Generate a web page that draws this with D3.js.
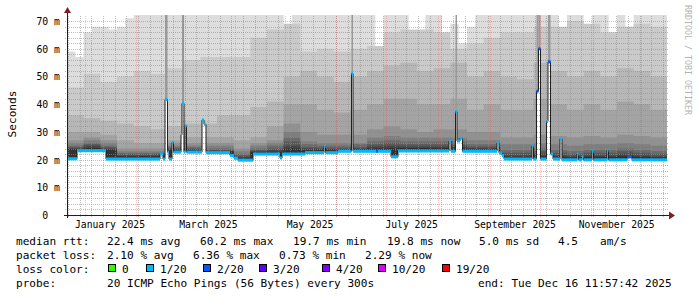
<!DOCTYPE html>
<html>
<head>
<meta charset="utf-8">
<script src="https://cdn.jsdelivr.net/npm/d3@7"></script>
<style>
    body { margin: 0; background: #fff; }
    svg { display: block; font-family: "DejaVu Sans Mono", monospace; }
    text { white-space: pre; }
</style>
</head>
<body>
<svg id="chart" width="697" height="297"></svg>
<script>
// graph covers the last 360 days up to the probe time
const startTime = new Date(Date.UTC(2024, 11, 21, 11, 57, 42));
const endTime = new Date(Date.UTC(2025, 11, 16, 11, 57, 42));

const yTicks = [0, 10, 20, 30, 40, 50, 60, 70];
const monthLabels = ["2025-01", "2025-03", "2025-05", "2025-07", "2025-09", "2025-11"];

// median rtt in ms, as steps: day offset from start, value, lost pings (of 20)
const medianDays = [0, 6, 23.4, 55.8, 57.6, 58.8, 60.3, 61.2, 63, 63.9, 68.4, 69, 70.2, 70.8, 71.7,
    81, 82.2, 83.4, 97.8, 100.2, 102.6, 111.6, 127.8, 129, 142.8, 154.2, 155.1, 162.6, 170.7, 171.6,
    185.4, 186.6, 194.4, 198.6, 229.2, 230.4, 233.1, 234, 235.8, 237.3, 258, 259.2, 261, 262.2,
    279, 279.9, 281.7, 282.9, 284.1, 287.7, 288.6, 290.1, 291.6, 295.8, 297, 306, 306.9, 309, 309.9,
    315, 315.9, 324, 324.9, 336, 339];
const medianValues = [20.3, 23.2, 20.2, 22.0, 20.2, 41.7, 22.7, 20.2, 26.2, 22.7, 29.0, 40.3, 22.7, 32.2, 22.7,
    34.3, 32.7, 22.5, 21.5, 20.5, 19.8, 22.0, 20.6, 22.0, 22.5, 24.7, 22.5, 23.0, 51.1, 23.0,
    23.0, 23.0, 21.0, 23.1, 26.7, 23.0, 37.3, 26.7, 27.7, 23.0, 26.0, 22.4, 21.5, 20.2,
    24.9, 20.2, 44.7, 60.0, 20.2, 33.8, 55.3, 22.0, 20.2, 27.5, 19.9, 22.0, 19.9, 21.0, 19.9,
    23.0, 19.9, 23.4, 19.9, 21.0, 19.9];
const medianLoss = [1, 1, 1, 1, 1, 1, 1, 1, 1, 1, 1, 1, 1, 1, 1,
    1, 1, 1, 1, 1, 1, 1, 1, 1, 1, 1, 1, 1, 1, 1,
    2, 1, 1, 1, 1, 1, 1, 1, 1, 1, 1, 1, 1, 1,
    1, 1, 2, 2, 1, 1, 2, 1, 1, 1, 1, 1, 1, 1, 1,
    1, 1, 1, 1, 2, 1];

// smoke: upper edge of each ping band (ms), outermost band first
// band 1 every 5 days, the others every 10 days
const smokeTop1 = [59, 57, 66, 68, 68, 67, 68, 71, 73, 73, 73, 73, 73, 73, 73, 73, 73, 73,
    73, 73, 73, 73, 73, 73, 73, 73, 64, 73, 73, 73, 73, 73, 73, 73, 73, 73, 73, 56,
    73, 73, 73, 59, 62, 73, 73, 64, 69, 62, 68, 73, 73, 73, 73, 73, 73, 73, 73, 73, 73,
    65, 73, 73, 63, 73, 73, 62, 73, 68, 73, 73, 73, 73];
const smokeTop2 = [46, 51, 48, 50, 52, 51, 53, 56, 57, 57, 57, 64, 67, 69, 59, 60, 59, 60,
    61, 66, 67, 67, 66, 60, 62, 64, 66, 66, 68, 68, 70, 69, 66, 68, 69, 68];
const smokeTop3 = [36, 35, 34, 33, 32, 31, 32, 33, 33, 36, 36, 39, 41, 50, 52, 50, 48, 50,
    52, 54, 55, 52, 53, 55, 50, 52, 50, 49, 55, 52, 50, 52, 50, 53, 52, 50];
const smokeTop4 = [30, 30, 29, 27, 26, 26, 27, 28, 28, 28, 27, 28, 32, 40, 40, 38, 37, 38,
    40, 42, 42, 40, 40, 42, 38, 40, 38, 38, 42, 40, 38, 40, 38, 41, 40, 38];
const smokeTop5 = [27, 28, 27, 24, 24, 24, 26, 26, 26, 26, 24, 26, 27, 33, 30, 29, 29, 29,
    31, 32, 31, 30, 31, 31, 30, 30, 28, 28, 29, 28.5, 28, 28.5, 28, 29, 28.5, 28];
const smokeTop6 = [26, 27, 26, 23, 23, 23, 25, 25, 25, 25, 23, 25, 26, 30, 26.5, 26, 26, 26,
    28, 28.5, 28, 28, 28, 28, 27, 27, 25.5, 25.5, 26, 25.5, 25, 25.5, 25.5, 26, 25.5, 25];
const smokeTop7 = [25, 26, 25, 22.5, 22.5, 22.5, 24.5, 24.5, 24, 24, 22, 24, 25, 28, 25.5, 25, 25, 25.5,
    26.5, 27, 26.5, 26.5, 26.5, 26.5, 25.5, 25.5, 23.5, 23.5, 24, 23.5, 23, 23.5, 23.5, 24, 23.5, 23];
const smokeTop8 = [24.5, 25.5, 24.5, 22, 22, 22, 24, 24, 23.5, 23.5, 21.5, 23.5, 24, 26.5, 24.5, 24.3, 24.3, 24.5,
    25.5, 26, 25.5, 25.5, 25.5, 25.5, 24.7, 24.7, 22.5, 22.5, 23, 22.5, 22, 22.5, 22.5, 23, 22.5, 22];
const smokeTop9 = [24, 25, 24, 21.5, 21.5, 21.5, 23.7, 23.7, 23.3, 23.2, 21, 23, 23.5, 25, 24, 23.8, 23.8, 24,
    24.7, 25, 24.7, 24.7, 24.7, 24.7, 24.2, 24.2, 21.5, 21.5, 22, 21.5, 21.2, 21.5, 21.5, 22, 21.5, 21.2];
const smokeTop10 = [23.8, 24.2, 23.6, 21.2, 21.2, 21.2, 23.4, 23.4, 23, 22.9, 20.6, 22.7, 22.8, 24, 23.4, 23.4, 23.6, 23.8,
    24, 24.2, 24.2, 24.2, 24.2, 24.1, 23.8, 23.6, 21, 21, 21.3, 21, 20.8, 21, 21, 21.3, 21, 20.8];

// legend texts
const rttStats = ["22.4 ms avg", "60.2 ms max", "19.7 ms min", "19.8 ms now", "5.0 ms sd", "4.5", "am/s"];
const lossStats = ["2.10 % avg", "6.36 % max", "0.73 % min", "2.29 % now"];
const lossLabels = ["0", "1/20", "2/20", "3/20", "4/20", "10/20", "19/20"];
const lossLevels = [0, 1, 2, 3, 4, 10, 19];
const lossColors = ["#26ff00", "#00b8ff", "#0059ff", "#5e00ff", "#7e00ff", "#dd00ff", "#ff0000"];
const probeText = "20 ICMP Echo Pings (56 Bytes) every 300s";
const endText = "end: Tue Dec 16 11:57:42 2025";

const svg = d3.select('#chart');

// plot area
const plotLeft = 67, plotRight = 667, plotTop = 15, plotBottom = 215;

const x = d3.scaleUtc()
    .domain([startTime, endTime])
    .range([plotLeft, plotRight]);

const y = d3.scaleLinear()
    .domain([0, 72.2])
    .range([plotBottom, plotTop]);

const dayDate = d => new Date(startTime.getTime() + d * 864e5);
const totalDays = (endTime - startTime) / 864e5;

svg.append('clipPath').attr('id', 'plot-clip')
    .append('rect')
    .attr('x', plotLeft).attr('y', plotTop)
    .attr('width', plotRight - plotLeft).attr('height', plotBottom - plotTop);

const plot = svg.append('g').attr('clip-path', 'url(#plot-clip)');

// smoke bands, lightest outside, darker towards the median
const smokeTops = [smokeTop1, smokeTop2, smokeTop3, smokeTop4, smokeTop5,
    smokeTop6, smokeTop7, smokeTop8, smokeTop9, smokeTop10];

smokeTops.forEach((tops, i) => {
    const step = totalDays / tops.length;
    const pts = tops.map((v, k) => ({ d: k * step, v }));
    pts.push({ d: totalDays, v: tops[tops.length - 1] });
    const shade = Math.floor(190 / 10 * (10 - (i + 1))) + 50;
    plot.append('path')
        .datum(pts)
        .attr('fill', d3.rgb(shade, shade, shade))
        .attr('d', d3.area()
            .curve(d3.curveStepAfter)
            .x(p => x(dayDate(p.d)))
            .y0(y(0))
            .y1(p => y(p.v)));
});

// median steps
const median = medianDays.map((d, i) => ({
    d,
    end: i < medianDays.length - 1 ? medianDays[i + 1] : totalDays,
    v: medianValues[i],
    loss: medianLoss[i]
}));
const medianPts = median.concat([{ d: totalDays, v: medianValues[medianValues.length - 1] }]);

// nothing is drawn below the fastest ping
plot.append('path')
    .datum(medianPts)
    .attr('fill', '#fff')
    .attr('d', d3.area()
        .curve(d3.curveStepAfter)
        .x(p => x(dayDate(p.d)))
        .y0(y(0))
        .y1(p => y(p.v)));

// big spikes carry all pings up with them
plot.selectAll('rect.spike')
    .data(median.filter(m => m.v >= 35))
    .enter()
    .append('rect')
    .attr('class', 'spike')
    .attr('x', m => x(dayDate(m.d)))
    .attr('width', m => x(dayDate(m.end)) - x(dayDate(m.d)))
    .attr('y', plotTop)
    .attr('height', m => y(m.v) - plotTop)
    .attr('fill', '#9a9a9a');

// grid
const grid = svg.append('g');
const minorColor = 'rgba(143,143,143,0.6)';
const majorColor = 'rgba(222,79,79,0.45)';
const majorColorV = 'rgba(222,79,79,0.32)';

const minorY = d3.range(2, 72, 2).filter(v => v % 10 !== 0);
grid.selectAll('line.hminor')
    .data(minorY)
    .enter().append('line')
    .attr('x1', plotLeft - 2).attr('x2', plotRight + 2)
    .attr('y1', d => Math.round(y(d)) + 0.5).attr('y2', d => Math.round(y(d)) + 0.5)
    .attr('stroke', minorColor)
    .attr('stroke-dasharray', '1,1');

const weeks = d3.utcSunday.range(startTime, endTime);
grid.selectAll('line.vminor')
    .data(weeks)
    .enter().append('line')
    .attr('x1', d => Math.round(x(d)) + 0.5).attr('x2', d => Math.round(x(d)) + 0.5)
    .attr('y1', plotBottom + 2).attr('y2', plotTop)
    .attr('stroke', minorColor)
    .attr('stroke-dasharray', '1,1');

grid.selectAll('line.hmajor')
    .data(yTicks.filter(v => v > 0))
    .enter().append('line')
    .attr('x1', plotLeft - 2).attr('x2', plotRight + 2)
    .attr('y1', d => Math.round(y(d)) + 0.5).attr('y2', d => Math.round(y(d)) + 0.5)
    .attr('stroke', majorColor)
    .attr('stroke-dasharray', '1,1');

const months = d3.utcMonth.range(startTime, endTime);
grid.selectAll('line.vmajor')
    .data(months)
    .enter().append('line')
    .attr('x1', d => Math.round(x(d)) + 0.5).attr('x2', d => Math.round(x(d)) + 0.5)
    .attr('y1', plotBottom + 2).attr('y2', plotTop)
    .attr('stroke', majorColorV)
    .attr('stroke-dasharray', '1,1');

// median line and loss coloured band
const lines = svg.append('g').attr('clip-path', 'url(#plot-clip)');

lines.append('path')
    .datum(medianPts)
    .attr('fill', 'none')
    .attr('stroke', '#202020')
    .attr('stroke-width', 1)
    .attr('d', d3.line()
        .curve(d3.curveStepAfter)
        .x(p => x(dayDate(p.d)))
        .y(p => y(p.v)));

lines.selectAll('rect.med')
    .data(median)
    .enter().append('rect')
    .attr('class', 'med')
    .attr('x', m => x(dayDate(m.d)))
    .attr('width', m => Math.max(1, x(dayDate(m.end)) - x(dayDate(m.d))))
    .attr('y', m => y(m.v + 0.55))
    .attr('height', m => y(m.v - 0.55) - y(m.v + 0.55))
    .attr('fill', m => lossColors[lossLevels.indexOf(m.loss)]);

// axes
const axisColor = '#1f1f1f';
const arrowColor = '#801f1f';

svg.append('line')
    .attr('x1', plotLeft - 3).attr('x2', plotRight + 3)
    .attr('y1', plotBottom + 0.5).attr('y2', plotBottom + 0.5)
    .attr('stroke', axisColor);
svg.append('line')
    .attr('x1', plotLeft + 0.5).attr('x2', plotLeft + 0.5)
    .attr('y1', plotBottom + 3).attr('y2', 11)
    .attr('stroke', axisColor);

svg.append('path')
    .attr('d', `M${plotLeft - 3},13 L${plotLeft + 0.5},7 L${plotLeft + 4},13 Z`)
    .attr('fill', arrowColor);
svg.append('path')
    .attr('d', `M${plotRight + 2},211.5 L${plotRight + 8},215.5 L${plotRight + 2},219.5 Z`)
    .attr('fill', arrowColor);

const yAxis = d3.axisLeft(y)
    .tickValues(yTicks)
    .tickSize(0)
    .tickPadding(7)
    .tickFormat(d => d === 0 ? '0  ' : d + ' m');

const yAxisGroup = svg.append('g')
    .attr('transform', `translate(${plotLeft}, 0)`)
    .call(yAxis);
yAxisGroup.select('path.domain').remove();
yAxisGroup.selectAll('text')
    .attr('font-family', '"DejaVu Sans Mono", monospace')
    .attr('font-size', '9.8px')
    .attr('fill', '#000')
    .attr('dy', '0.35em');

const labelDates = monthLabels.map(m => d3.utcDay.offset(d3.utcParse('%Y-%m')(m), 15));
const xAxis = d3.axisBottom(x)
    .tickValues(labelDates)
    .tickSize(0)
    .tickFormat(d3.utcFormat('%B %Y'));

const xAxisGroup = svg.append('g')
    .attr('transform', `translate(0, ${plotBottom})`)
    .call(xAxis);
xAxisGroup.select('path.domain').remove();
xAxisGroup.selectAll('text')
    .attr('font-family', '"DejaVu Sans Mono", monospace')
    .attr('font-size', '9.7px')
    .attr('fill', '#000')
    .attr('dy', null)
    .attr('y', 12.5);

// axis title
svg.append('text')
    .attr('transform', 'translate(15.5, 114) rotate(-90)')
    .attr('text-anchor', 'middle')
    .attr('font-size', '11.1px')
    .text('Seconds');

// watermark
svg.append('text')
    .attr('transform', 'translate(685, 5) rotate(90)')
    .attr('font-size', '8.3px')
    .attr('fill', '#b3b3b3')
    .text('RRDTOOL / TOBI OETIKER');

// legend
const legend = svg.append('g').attr('font-size', '11.1px').attr('fill', '#000');

const rttX = [107, 200, 293, 387, 479, 558, 600];
const lossX = [107, 193, 279, 365];
const boxX = [108, 146, 203, 259, 322, 378, 442];

legend.append('text').attr('x', 16).attr('y', 244.5).text('median rtt:');
legend.selectAll('text.rtt')
    .data(rttStats)
    .enter().append('text')
    .attr('x', (d, i) => rttX[i]).attr('y', 244.5)
    .text(d => d);

legend.append('text').attr('x', 16).attr('y', 258.5).text('packet loss:');
legend.selectAll('text.loss')
    .data(lossStats)
    .enter().append('text')
    .attr('x', (d, i) => lossX[i]).attr('y', 258.5)
    .text(d => d);

legend.append('text').attr('x', 16).attr('y', 272.5).text('loss color:');
const items = legend.selectAll('g.item')
    .data(lossLabels)
    .enter().append('g')
    .attr('transform', (d, i) => `translate(${boxX[i]}, 0)`);
items.append('rect')
    .attr('x', 0.5).attr('y', 264.5)
    .attr('width', 7).attr('height', 7)
    .attr('fill', (d, i) => lossColors[i])
    .attr('stroke', '#000');
items.append('text')
    .attr('x', 14).attr('y', 272.5)
    .text(d => d);

legend.append('text').attr('x', 16).attr('y', 286.5).text('probe:');
legend.append('text').attr('x', 107).attr('y', 286.5).text(probeText);
legend.append('text').attr('x', 478).attr('y', 286.5).text(endText);
</script>
</body>
</html>
